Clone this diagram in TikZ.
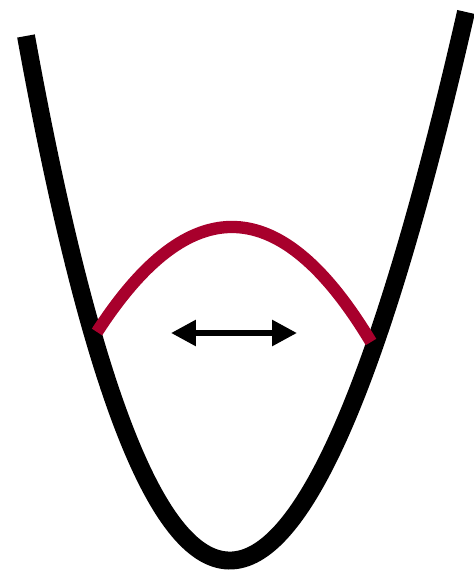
\documentclass[tikz,border=0pt]{standalone}
\usepackage{xcolor}
\usepackage{tikz}
\usetikzlibrary{arrows.meta,calc}
\definecolor{wavered}{RGB}{168,0,44}

\begin{document}
\begin{tikzpicture}[x=0.02cm,y=-0.02cm]
\useasboundingbox (0,0) rectangle (473,580);
\coordinate (wellL) at (26,36);
\coordinate (wellR) at (466,12);
\coordinate (waveL) at (97,332);
\coordinate (waveR) at (371,342);
\coordinate (arrL) at (171,333);
\coordinate (arrR) at (297,333);
\draw[line width=10.2pt] (wellL) .. controls (154.3,743.3) and (301,735.3) .. (wellR);
\draw[wavered, line width=7pt] (waveL) .. controls (189.7,188.7) and (281,192) .. (waveR);
\draw[line width=3.3pt, {Triangle[length=14.2pt,width=14.2pt]}-{Triangle[length=14.2pt,width=14.2pt]}] (arrL) -- (arrR);
\end{tikzpicture}
\end{document}
